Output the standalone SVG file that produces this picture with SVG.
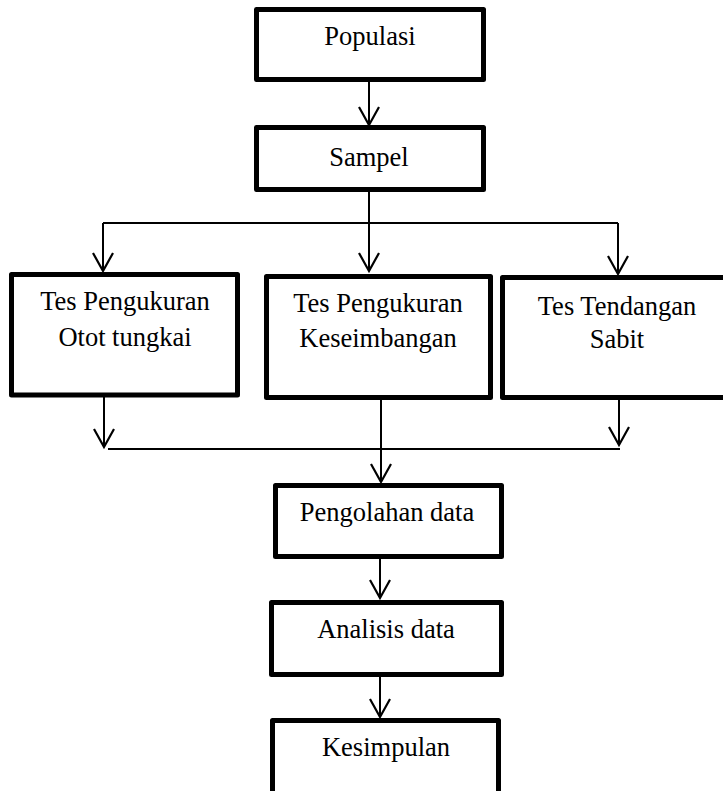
<svg xmlns="http://www.w3.org/2000/svg" width="723" height="791" viewBox="0 0 723 791">
<style>
.box{fill:#fff;stroke:#000;stroke-width:5;stroke-linejoin:round}
.t{font-family:"Liberation Serif","Times New Roman",serif;font-size:26.5px;fill:#000;text-anchor:middle}
.c{fill:none;stroke:#000;stroke-width:2}
.ah{fill:none;stroke:#000;stroke-width:2.2;stroke-linejoin:miter}
</style>
<defs>
<path id="ah" class="ah" d="M-10,-18 L0,0 L10,-18"/>
</defs>
<rect width="723" height="791" fill="#fff"/>
<g id="connectors">
<line class="c" x1="369" y1="80" x2="369" y2="124"/>
<use href="#ah" x="369" y="125"/>
<line class="c" x1="369" y1="190" x2="369" y2="270"/>
<use href="#ah" x="369" y="271"/>
<line class="c" x1="103" y1="223" x2="618" y2="223"/>
<line class="c" x1="103" y1="223" x2="103" y2="270"/>
<use href="#ah" x="103" y="271"/>
<line class="c" x1="618" y1="223" x2="618" y2="273"/>
<use href="#ah" x="618" y="274"/>
<line class="c" x1="104" y1="396" x2="104" y2="446"/>
<use href="#ah" x="104" y="447"/>
<line class="c" x1="619" y1="398" x2="619" y2="444"/>
<use href="#ah" x="619" y="445"/>
<line class="c" x1="108" y1="449" x2="620" y2="449"/>
<line class="c" x1="381" y1="398" x2="381" y2="481"/>
<use href="#ah" x="381" y="482"/>
<line class="c" x1="380" y1="558" x2="380" y2="597"/>
<use href="#ah" x="380" y="598"/>
<line class="c" x1="380" y1="676" x2="380" y2="716"/>
<use href="#ah" x="380" y="717"/>
</g>
<g id="populasi">
<rect class="box" x="256.5" y="9.5" width="227" height="70"/>
<text class="t" x="370" y="45">Populasi</text>
</g>
<g id="sampel">
<rect class="box" x="256.5" y="127.5" width="227" height="62"/>
<text class="t" x="369" y="166">Sampel</text>
</g>
<g id="tes-otot">
<rect class="box" x="11.5" y="274.5" width="226" height="120.5"/>
<text class="t" x="125" y="310">Tes Pengukuran</text>
<text class="t" x="125" y="346">Otot tungkai</text>
</g>
<g id="tes-keseimbangan">
<rect class="box" x="266.5" y="276.5" width="224" height="121"/>
<text class="t" x="378" y="312">Tes Pengukuran</text>
<text class="t" x="378" y="347">Keseimbangan</text>
</g>
<g id="tes-tendangan">
<rect class="box" x="502.5" y="277.5" width="225" height="120"/>
<text class="t" x="617" y="315">Tes Tendangan</text>
<text class="t" x="617" y="348">Sabit</text>
</g>
<g id="pengolahan">
<rect class="box" x="275.5" y="485.5" width="226" height="71"/>
<text class="t" x="387" y="521">Pengolahan data</text>
</g>
<g id="analisis">
<rect class="box" x="271.5" y="602.5" width="230" height="72"/>
<text class="t" x="386" y="638">Analisis data</text>
</g>
<g id="kesimpulan">
<rect class="box" x="272.5" y="720.5" width="226" height="90"/>
<text class="t" x="386" y="756">Kesimpulan</text>
</g>
</svg>
